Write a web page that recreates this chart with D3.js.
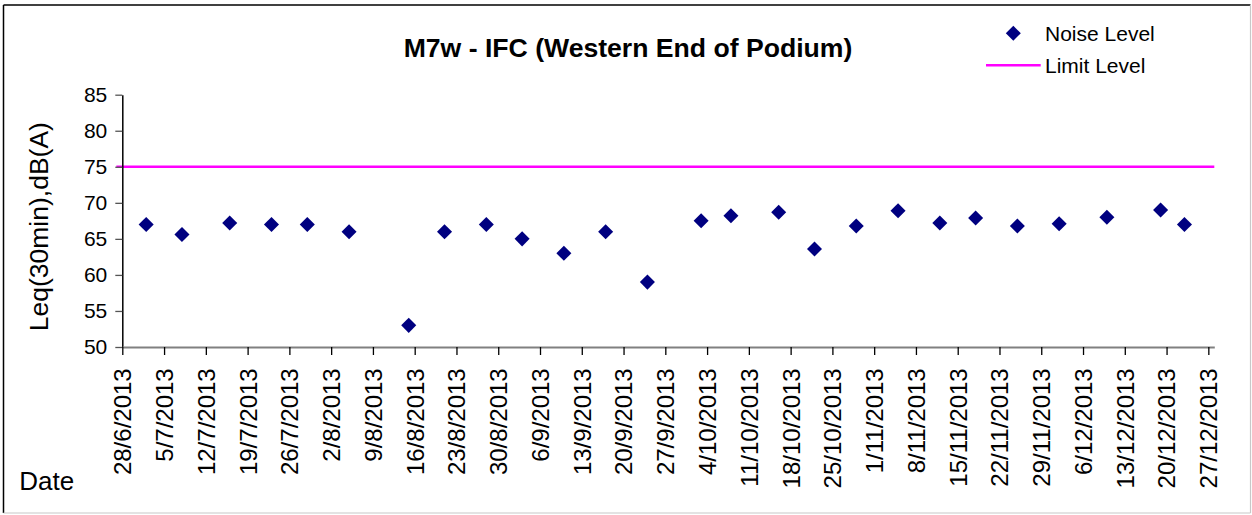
<!DOCTYPE html>
<html><head><meta charset="utf-8">
<script src="https://cdn.jsdelivr.net/npm/d3@7"></script>
<style>body{margin:0;background:#fff;}svg{display:block;font-family:Arial,"Liberation Sans",sans-serif;}</style>
</head><body>
<svg id="c" width="1252" height="515"></svg>
<script>
const noiseDates = ["2013-07-02","2013-07-08","2013-07-16","2013-07-23","2013-07-29","2013-08-05","2013-08-15","2013-08-21","2013-08-28","2013-09-03","2013-09-10","2013-09-17","2013-09-24","2013-10-03","2013-10-08","2013-10-16","2013-10-22","2013-10-29","2013-11-05","2013-11-12","2013-11-18","2013-11-25","2013-12-02","2013-12-10","2013-12-19","2013-12-23"];
const noiseValues = [67,65.6,67.2,67,67,66,53,66,67,65,63,66,59,67.5,68.2,68.7,63.6,66.8,68.9,67.2,67.9,66.8,67.1,68,69,67];
const limitDates = ["2013-06-27","2013-12-28"];
const limitValues = [75,75];
const tickDates = ["2013-06-28","2013-07-05","2013-07-12","2013-07-19","2013-07-26","2013-08-02","2013-08-09","2013-08-16","2013-08-23","2013-08-30","2013-09-06","2013-09-13","2013-09-20","2013-09-27","2013-10-04","2013-10-11","2013-10-18","2013-10-25","2013-11-01","2013-11-08","2013-11-15","2013-11-22","2013-11-29","2013-12-06","2013-12-13","2013-12-20","2013-12-27"];
const tickLabels = ["28/6/2013","5/7/2013","12/7/2013","19/7/2013","26/7/2013","2/8/2013","9/8/2013","16/8/2013","23/8/2013","30/8/2013","6/9/2013","13/9/2013","20/9/2013","27/9/2013","4/10/2013","11/10/2013","18/10/2013","25/10/2013","1/11/2013","8/11/2013","15/11/2013","22/11/2013","29/11/2013","6/12/2013","13/12/2013","20/12/2013","27/12/2013"];
const yTicks = [50,55,60,65,70,75,80,85];
const xDomain = ["2013-06-28","2013-12-28"];

const parse = d3.utcParse("%Y-%m-%d");
const svg = d3.select("#c");

// outer border
svg.append("line").attr("x1",3.5).attr("y1",5).attr("x2",1250.5).attr("y2",5).attr("stroke","#000").attr("stroke-width",1.5);
svg.append("line").attr("x1",3.5).attr("y1",5).attr("x2",3.5).attr("y2",513).attr("stroke","#000").attr("stroke-width",1.5);
svg.append("line").attr("x1",1250.5).attr("y1",5).attr("x2",1250.5).attr("y2",513).attr("stroke","#c8c8c8").attr("stroke-width",1.2);
svg.append("line").attr("x1",3.5).attr("y1",513).attr("x2",1250.5).attr("y2",513).attr("stroke","#c8c8c8").attr("stroke-width",1.2);

const x = d3.scaleUtc().domain(xDomain.map(parse)).range([122.3, 1214.3]);
const y = d3.scaleLinear().domain([50,85]).range([347,94.7]);

// limit line
const limit = limitDates.map((d,i)=>({d:parse(d), v:limitValues[i]}));
svg.append("path").datum(limit)
  .attr("d", d3.line().x(p=>x(p.d)).y(p=>y(p.v)))
  .attr("stroke","#ff00ff").attr("stroke-width",2.6).attr("fill","none");

// y axis
const yAxis = svg.append("g").attr("transform",`translate(${x(parse(xDomain[0]))},0)`)
  .call(d3.axisLeft(y).tickValues(yTicks).tickSize(7).tickPadding(8).tickSizeOuter(0));
yAxis.select(".domain").attr("stroke","#000").attr("stroke-width",1.5);
yAxis.selectAll(".tick line").attr("stroke","#555").attr("stroke-width",1.3);
yAxis.selectAll(".tick text").attr("font-size",21).attr("fill","#000").attr("font-family","Arial, 'Liberation Sans', sans-serif");

// x axis
const xAxis = svg.append("g").attr("transform",`translate(0,${y(50)})`)
  .call(d3.axisBottom(x).tickValues(tickDates.map(parse)).tickSize(8).tickSizeOuter(0)
    .tickFormat((d,i)=>tickLabels[i]));
xAxis.select(".domain").attr("stroke","#808080").attr("stroke-width",2.2);
xAxis.selectAll(".tick line").attr("stroke","#000").attr("stroke-width",1.3);
xAxis.selectAll(".tick text")
  .attr("font-size",24).attr("fill","#000").attr("font-family","Arial, 'Liberation Sans', sans-serif")
  .attr("text-anchor","end").attr("y",0).attr("dy","0.35em")
  .attr("transform","translate(0,21.3) rotate(-90)");

// points
const pts = noiseDates.map((d,i)=>({d:parse(d), v:noiseValues[i]}));
const sym = d3.symbol(d3.symbolSquare, 113);
svg.append("g").selectAll("path").data(pts).join("path")
  .attr("d", sym)
  .attr("transform", p=>`translate(${x(p.d)},${y(p.v)}) rotate(45)`)
  .attr("fill","#000080");

// title
svg.append("text").attr("x",628).attr("y",57).attr("text-anchor","middle")
  .attr("font-size",26.6).attr("font-weight","bold").text("M7w - IFC (Western End of Podium)");

// y axis title
svg.append("text").attr("transform","translate(47.5,226.7) rotate(-90)").attr("text-anchor","middle")
  .attr("font-size",26.5).text("Leq(30min),dB(A)");

// Date label
svg.append("text").attr("x",19.3).attr("y",490).attr("font-size",26).text("Date");

// legend
const lg = svg.append("g");
lg.append("path").attr("d", sym).attr("transform","translate(1013.3,33.3) rotate(45)").attr("fill","#000080");
lg.append("text").attr("x",1045).attr("y",40.5).attr("font-size",21).text("Noise Level");
lg.append("line").attr("x1",986).attr("x2",1040.7).attr("y1",65.3).attr("y2",65.3).attr("stroke","#ff00ff").attr("stroke-width",2.6);
lg.append("text").attr("x",1045).attr("y",72.7).attr("font-size",21).text("Limit Level");
</script>
</body></html>
